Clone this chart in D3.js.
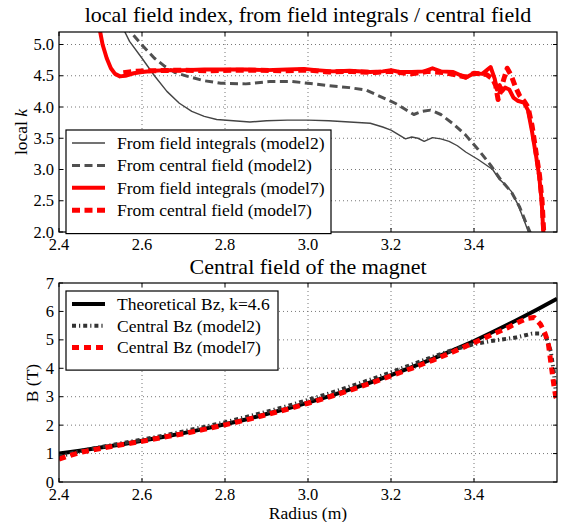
<!DOCTYPE html>
<html lang="en">
<head>
<meta charset="utf-8">
<title>local field index</title>
<script src="https://d3js.org/d3.v7.min.js"></script>
<style>
  body { margin: 0; background: white; }
  svg { display: block; font-family: 'Liberation Serif', 'DejaVu Serif', serif; }
  svg text { font-family: 'Liberation Serif', 'DejaVu Serif', serif; fill: black; }
  .tick-label { font-size: 16.5px; }
  .legend-text { font-size: 17.5px; }
  .title { font-size: 22px; }
  .axis-label { font-size: 17.5px; }
</style>
</head>
<body>
<svg width="562" height="522"></svg>
<script>
// ---- top panel: local field index k vs radius ----
const kTicksX = [2.4, 2.6, 2.8, 3.0, 3.2, 3.4];
const kTicksY = [2.0, 2.5, 3.0, 3.5, 4.0, 4.5, 5.0];

// from field integrals (model2)
const kInt2 = [[2.555,5.25],[2.57,5.05],[2.60,4.78],[2.63,4.50],[2.66,4.25],[2.69,4.06],[2.72,3.93],
  [2.75,3.85],[2.78,3.80],[2.82,3.78],[2.86,3.76],[2.90,3.78],[2.95,3.79],[3.00,3.79],[3.05,3.78],
  [3.10,3.76],[3.15,3.74],[3.18,3.68],[3.20,3.63],[3.22,3.55],[3.235,3.49],[3.25,3.52],[3.265,3.50],
  [3.28,3.45],[3.30,3.51],[3.32,3.49],[3.34,3.45],[3.36,3.38],[3.38,3.28],[3.41,3.16],[3.445,3.00],
  [3.46,2.85],[3.475,2.76],[3.49,2.65],[3.505,2.45],[3.52,2.20],[3.53,2.02],[3.535,1.90]];
// from central field (model2)
const kCen2 = [[2.56,5.30],[2.60,4.99],[2.63,4.78],[2.655,4.65],[2.68,4.55],[2.71,4.49],[2.75,4.42],
  [2.79,4.38],[2.85,4.37],[2.91,4.41],[2.96,4.41],[3.00,4.38],[3.05,4.34],[3.10,4.31],[3.14,4.27],
  [3.18,4.15],[3.21,4.06],[3.235,3.96],[3.255,3.88],[3.275,3.93],[3.295,3.95],[3.32,3.88],[3.35,3.73],
  [3.38,3.55],[3.41,3.32],[3.44,3.07],[3.465,2.83],[3.49,2.64],[3.51,2.40],[3.525,2.15],[3.535,2.00],[3.54,1.90]];
// from field integrals (model7)
const kInt7 = [[2.495,5.35],[2.505,5.00],[2.515,4.78],[2.525,4.62],[2.535,4.53],[2.547,4.49],[2.56,4.50],
  [2.58,4.54],[2.60,4.56],[2.63,4.58],[2.66,4.59],[2.70,4.59],[2.75,4.60],[2.80,4.60],[2.85,4.60],
  [2.90,4.59],[2.95,4.60],[2.99,4.61],[3.02,4.59],[3.06,4.57],[3.10,4.58],[3.15,4.56],[3.18,4.57],
  [3.20,4.59],[3.22,4.56],[3.25,4.56],[3.28,4.57],[3.30,4.62],[3.32,4.57],[3.35,4.56],[3.38,4.47],
  [3.40,4.54],[3.42,4.53],[3.44,4.64],[3.45,4.45],[3.455,4.28],[3.462,4.35],[3.468,4.25],[3.475,4.31],
  [3.485,4.28],[3.495,4.15],[3.505,4.10],[3.52,4.07],[3.53,3.95],[3.54,3.60],[3.55,3.20],[3.557,2.90],
  [3.563,2.50],[3.567,2.00],[3.57,1.80]];
// from central field (model7)
const kCen7 = [[2.555,4.55],[2.58,4.57],[2.62,4.58],[2.70,4.59],[2.76,4.58],[2.82,4.59],[2.88,4.59],
  [2.94,4.58],[3.00,4.59],[3.05,4.56],[3.10,4.57],[3.16,4.55],[3.20,4.57],[3.25,4.53],[3.29,4.57],
  [3.33,4.55],[3.38,4.48],[3.40,4.54],[3.43,4.52],[3.445,4.45],[3.452,4.35],[3.458,4.12],[3.465,4.28],
  [3.472,4.45],[3.48,4.62],[3.49,4.50],[3.50,4.32],[3.51,4.18],[3.52,4.10],[3.53,4.00],[3.54,3.70],
  [3.55,3.25],[3.558,2.90],[3.564,2.50],[3.568,2.00],[3.572,1.80]];

// ---- bottom panel: central field B vs radius ----
const bTicksY = [0, 1, 2, 3, 4, 5, 6, 7];
const bTheory = [[2.40,1.00],[2.45,1.10],[2.50,1.21],[2.55,1.32],[2.60,1.45],[2.65,1.58],[2.70,1.72],
  [2.75,1.87],[2.80,2.03],[2.85,2.20],[2.90,2.39],[2.95,2.58],[3.00,2.79],[3.05,3.01],[3.10,3.25],
  [3.15,3.50],[3.20,3.76],[3.25,4.04],[3.30,4.33],[3.35,4.64],[3.40,4.96],[3.45,5.31],[3.50,5.67],
  [3.55,6.05],[3.60,6.45]];
const bCen2 = [[2.40,0.90],[2.45,1.08],[2.50,1.23],[2.55,1.36],[2.60,1.49],[2.65,1.63],[2.70,1.78],
  [2.75,1.94],[2.80,2.10],[2.85,2.28],[2.90,2.47],[2.95,2.67],[3.00,2.89],[3.05,3.11],[3.10,3.35],
  [3.15,3.60],[3.20,3.86],[3.25,4.13],[3.30,4.40],[3.35,4.65],[3.40,4.85],[3.45,4.98],[3.50,5.08],
  [3.54,5.22],[3.56,5.22],[3.575,5.05],[3.585,4.60],[3.592,3.90],[3.597,3.20],[3.60,3.05]];
const bCen7 = [[2.40,0.80],[2.42,0.90],[2.45,1.04],[2.50,1.18],[2.55,1.31],[2.60,1.43],[2.65,1.57],
  [2.70,1.70],[2.75,1.85],[2.80,2.01],[2.85,2.18],[2.90,2.37],[2.95,2.56],[3.00,2.77],[3.05,2.99],
  [3.10,3.22],[3.15,3.47],[3.20,3.73],[3.25,4.00],[3.30,4.28],[3.35,4.58],[3.40,4.90],[3.45,5.23],
  [3.48,5.42],[3.51,5.64],[3.53,5.76],[3.545,5.79],[3.56,5.55],[3.571,5.23],[3.579,4.88],[3.587,4.00],
  [3.593,3.35],[3.597,3.00],[3.60,2.90]];

const svg = d3.select("svg");
const left = 59, right = 557;

// draws one axes box: grid, lines, spines, inside ticks, labels
function panel(id, top, bottom, yDomain, yTicks, yFmt, series) {
  const x = d3.scaleLinear().domain([2.4, 3.6]).range([left, right]);
  const y = d3.scaleLinear().domain(yDomain).range([bottom, top]);
  const g = svg.append("g");

  g.append("clipPath").attr("id", id)
    .append("rect").attr("x", left).attr("y", top)
    .attr("width", right - left).attr("height", bottom - top);

  // dotted grid
  g.selectAll(".gx").data(kTicksX.slice(1)).enter().append("line")
    .attr("x1", d => x(d)).attr("x2", d => x(d)).attr("y1", top).attr("y2", bottom)
    .attr("stroke", "#777").attr("stroke-width", 1).attr("stroke-dasharray", "1,3");
  g.selectAll(".gy").data(yTicks.filter(t => t > yDomain[0] && t < yDomain[1]))
    .enter().append("line")
    .attr("x1", left).attr("x2", right).attr("y1", d => y(d)).attr("y2", d => y(d))
    .attr("stroke", "#777").attr("stroke-width", 1).attr("stroke-dasharray", "1,3");

  const line = d3.line().x(d => x(d[0])).y(d => y(d[1]));
  const lines = g.append("g").attr("clip-path", "url(#" + id + ")");
  series.forEach(s => {
    lines.append("path").datum(s.data).attr("d", line)
      .attr("fill", "none").attr("stroke", s.color).attr("stroke-width", s.width)
      .attr("stroke-dasharray", s.dash || null).attr("stroke-linejoin", "round");
  });

  // ticks inside, on all four sides
  kTicksX.forEach(t => {
    g.append("line").attr("x1", x(t)).attr("x2", x(t)).attr("y1", bottom).attr("y2", bottom - 4).attr("stroke", "black");
    g.append("line").attr("x1", x(t)).attr("x2", x(t)).attr("y1", top).attr("y2", top + 4).attr("stroke", "black");
    g.append("text").attr("class", "tick-label").attr("x", x(t)).attr("y", bottom + 18)
      .attr("text-anchor", "middle").text(t.toFixed(1));
  });
  yTicks.forEach(t => {
    g.append("line").attr("x1", left).attr("x2", left + 4).attr("y1", y(t)).attr("y2", y(t)).attr("stroke", "black");
    g.append("line").attr("x1", right).attr("x2", right - 4).attr("y1", y(t)).attr("y2", y(t)).attr("stroke", "black");
    g.append("text").attr("class", "tick-label").attr("x", left - 5).attr("y", y(t) + 5.5)
      .attr("text-anchor", "end").text(yFmt(t));
  });

  g.append("rect").attr("x", left).attr("y", top).attr("width", right - left).attr("height", bottom - top)
    .attr("fill", "none").attr("stroke", "black").attr("stroke-width", 1.2);

  return { x, y, g };
}

// legend box with line samples
function legend(g, x0, y0, w, rowH, items) {
  g.append("rect").attr("x", x0).attr("y", y0).attr("width", w).attr("height", rowH * items.length + 14)
    .attr("fill", "white").attr("stroke", "black").attr("stroke-width", 1.2);
  items.forEach((s, i) => {
    const cy = y0 + 13 + i * rowH;
    g.append("line").attr("x1", x0 + 6).attr("x2", x0 + 39).attr("y1", cy).attr("y2", cy)
      .attr("stroke", s.color).attr("stroke-width", s.width).attr("stroke-dasharray", s.dash || null);
    g.append("text").attr("class", "legend-text").attr("x", x0 + 51).attr("y", cy + 6).text(s.label);
  });
}

const topSeries = [
  { data: kInt2, color: "#444", width: 1.4, label: "From field integrals (model2)" },
  { data: kCen2, color: "#505050", width: 3, dash: "8,4.5", label: "From central field (model2)" },
  { data: kInt7, color: "#ff0000", width: 4, label: "From field integrals (model7)" },
  { data: kCen7, color: "#ff0000", width: 5, dash: "8,4.5", label: "From central field (model7)" }
];
const p1 = panel("clipTop", 32, 232, [2.0, 5.2], kTicksY, d => d.toFixed(1), topSeries);
legend(p1.g, 66, 130, 265, 22.4, topSeries);

const botSeries = [
  { data: bTheory, color: "black", width: 4, label: "Theoretical Bz, k=4.6" },
  { data: bCen2, color: "#333", width: 4, dash: "4,3,1.2,3", label: "Central Bz (model2)" },
  { data: bCen7, color: "#ff0000", width: 5, dash: "7,5", label: "Central Bz (model7)" }
];
const p2 = panel("clipBot", 283, 482, [0, 7], bTicksY, d => d, botSeries);
legend(p2.g, 66, 291, 212, 21.7, botSeries);

// titles and axis labels
svg.append("text").attr("class", "title").attr("x", 308).attr("y", 22)
  .attr("text-anchor", "middle").text("local field index, from field integrals / central field");
svg.append("text").attr("class", "title").attr("x", 308).attr("y", 274)
  .attr("text-anchor", "middle").text("Central field of the magnet");
svg.append("text").attr("class", "axis-label").attr("x", 308).attr("y", 518.5)
  .attr("text-anchor", "middle").text("Radius (m)");

const ky = svg.append("text").attr("class", "axis-label")
  .attr("transform", "translate(27,132) rotate(-90)").attr("text-anchor", "middle");
ky.append("tspan").text("local ");
ky.append("tspan").attr("font-style", "italic").text("k");

svg.append("text").attr("class", "axis-label")
  .attr("transform", "translate(38,383) rotate(-90)").attr("text-anchor", "middle").text("B (T)");
</script>
</body>
</html>
